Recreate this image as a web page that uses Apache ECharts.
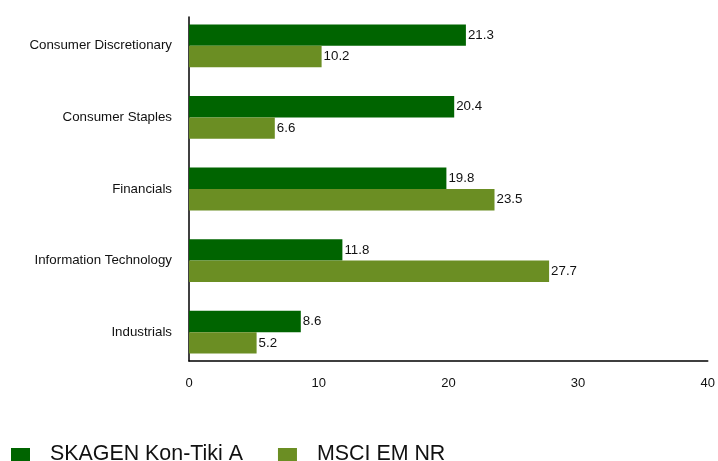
<!DOCTYPE html>
<html><head><meta charset="utf-8">
<script src="https://cdn.jsdelivr.net/npm/echarts@6/dist/echarts.min.js"></script>
<style>html,body{margin:0;padding:0;background:#fff}#c{width:718px;height:461px}</style>
</head><body><div id="c"></div>
<script>
const categories = ["Consumer Discretionary","Consumer Staples","Financials","Information Technology","Industrials"];
const skagen = [21.3, 20.4, 19.8, 11.8, 8.6];
const msci = [10.2, 6.6, 23.5, 27.7, 5.2];
const seriesNames = ["SKAGEN Kon-Tiki A","MSCI EM NR"];
const xTicks = [0, 10, 20, 30, 40];

const font = 'Liberation Sans, Arial, sans-serif';
const chart = echarts.init(document.getElementById('c'), null, {renderer:'canvas'});
chart.setOption({
  animation:false,
  backgroundColor:'#fff',
  legend:{
    left:11, top:444, padding:0, itemWidth:19, itemHeight:13, itemGap:35,
    icon:'rect',
    textStyle:{fontFamily:font, fontSize:21.4, color:'#111', padding:[0,0,0,15]},
    data:seriesNames
  },
  grid:[
    {left:189, right:9, top:10, height:358, containLabel:false},
    {left:189, right:9, top:17, height:344, containLabel:false}
  ],
  xAxis:[
    {gridIndex:0, type:'value', min:xTicks[0], max:xTicks[xTicks.length-1], interval:10,
     axisLine:{show:false}, axisTick:{show:false}, axisLabel:{show:false}, splitLine:{show:false}},
    {gridIndex:1, type:'value', min:xTicks[0], max:xTicks[xTicks.length-1], interval:10,
     axisLine:{show:true, lineStyle:{color:'#000', width:1.5}}, axisTick:{show:false},
     axisLabel:{show:true, margin:16, fontFamily:font, fontSize:13, color:'#111'}, splitLine:{show:false}}
  ],
  yAxis:[
    {gridIndex:0, type:'category', inverse:true, data:categories,
     axisLine:{show:false}, axisTick:{show:false},
     axisLabel:{margin:17, fontFamily:font, fontSize:13.3, color:'#111'}},
    {gridIndex:1, type:'category', inverse:true, data:categories,
     axisLine:{show:true, lineStyle:{color:'#000', width:1.5}}, axisTick:{show:false}, axisLabel:{show:false}}
  ],
  series:[
    {name:seriesNames[0], type:'bar', xAxisIndex:0, yAxisIndex:0, data:skagen,
     itemStyle:{color:'#006400'}, barWidth:21.4, barGap:'0%',
     label:{show:true, position:'right', distance:2, fontFamily:font, fontSize:13.3, color:'#111'}},
    {name:seriesNames[1], type:'bar', xAxisIndex:0, yAxisIndex:0, data:msci,
     itemStyle:{color:'#6b8e23'}, barWidth:21.4, barGap:'0%',
     label:{show:true, position:'right', distance:2, fontFamily:font, fontSize:13.3, color:'#111'}}
  ]
});
</script></body></html>
